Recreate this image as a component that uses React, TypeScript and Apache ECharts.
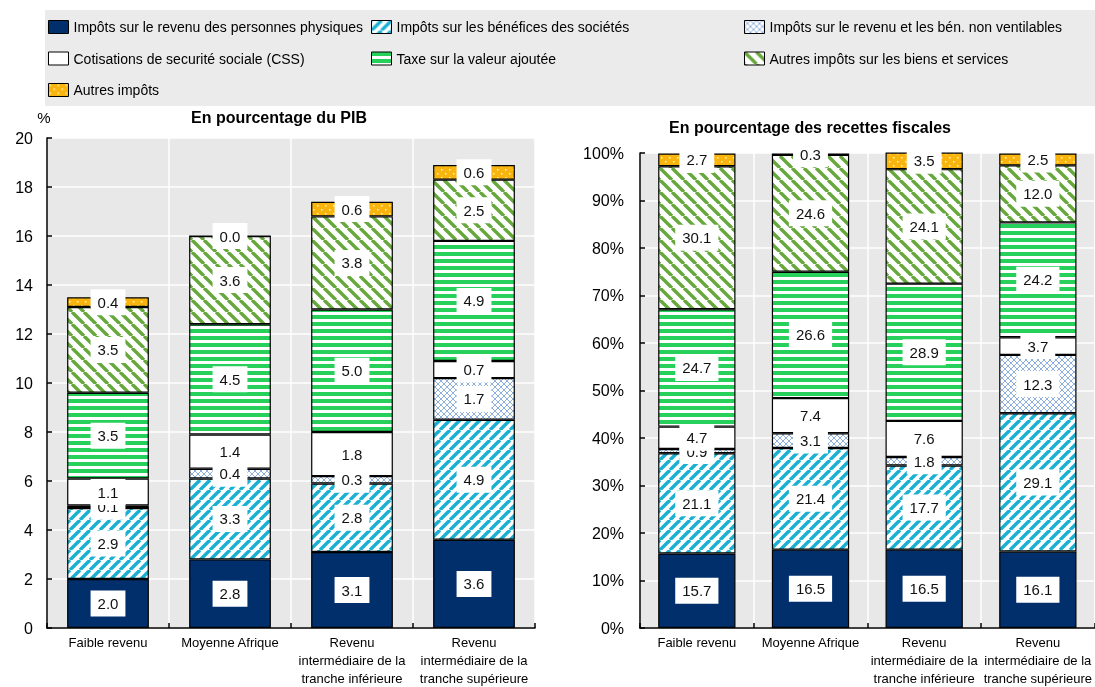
import React, { useEffect, useRef } from "react";
import * as echarts from "echarts";

const categories = [
  "Faible revenu",
  "Moyenne Afrique",
  "Revenu\nintermédiaire de la\ntranche inférieure",
  "Revenu\nintermédiaire de la\ntranche supérieure",
];

const seriesNames = [
  "Impôts sur le revenu des personnes physiques",
  "Impôts sur les bénéfices des sociétés",
  "Impôts sur le revenu et les bén. non ventilables",
  "Cotisations de securité sociale (CSS)",
  "Taxe sur la valeur ajoutée",
  "Autres impôts sur les biens et services",
  "Autres impôts",
];

// En pourcentage du PIB
const pibPIT = [2.0, 2.8, 3.1, 3.6];
const pibCIT = [2.9, 3.3, 2.8, 4.9];
const pibUnalloc = [0.1, 0.4, 0.3, 1.7];
const pibCSS = [1.1, 1.4, 1.8, 0.7];
const pibVAT = [3.5, 4.5, 5.0, 4.9];
const pibOtherGS = [3.5, 3.6, 3.8, 2.5];
const pibOther = [0.4, 0.0, 0.6, 0.6];

// En pourcentage des recettes fiscales
const shPIT = [15.7, 16.5, 16.5, 16.1];
const shCIT = [21.1, 21.4, 17.7, 29.1];
const shUnalloc = [0.9, 3.1, 1.8, 12.3];
const shCSS = [4.7, 7.4, 7.6, 3.7];
const shVAT = [24.7, 26.6, 28.9, 24.2];
const shOtherGS = [30.1, 24.6, 24.1, 12.0];
const shOther = [2.7, 0.3, 3.5, 2.5];

const leftTicks = { min: 0, max: 20, interval: 2 };
const rightTicks = { min: 0, max: 100, interval: 10 };

const FONT = '"Liberation Sans", Arial, sans-serif';

function makeTile(w: number, h: number, draw: (ctx: CanvasRenderingContext2D) => void) {
  const c = document.createElement("canvas");
  c.width = w;
  c.height = h;
  const ctx = c.getContext("2d")!;
  draw(ctx);
  return { image: c.toDataURL(), repeat: "repeat", imageWidth: w, imageHeight: h } as any;
}

function buildFills() {
  const navy = "#002f6c";
  const cit = makeTile(10, 10, (ctx) => {
    ctx.fillStyle = "#fff";
    ctx.fillRect(0, 0, 10, 10);
    ctx.strokeStyle = "#1bb0d2";
    ctx.lineWidth = 3.4;
    for (const o of [-10, 0, 10]) {
      ctx.beginPath();
      ctx.moveTo(o, 10);
      ctx.lineTo(o + 10, 0);
      ctx.stroke();
    }
  });
  const unalloc = makeTile(6, 6, (ctx) => {
    ctx.fillStyle = "#fff";
    ctx.fillRect(0, 0, 6, 6);
    ctx.strokeStyle = "#8eb0de";
    ctx.lineWidth = 1;
    ctx.beginPath();
    ctx.moveTo(0, 0);
    ctx.lineTo(6, 6);
    ctx.moveTo(6, 0);
    ctx.lineTo(0, 6);
    ctx.stroke();
  });
  const vat = makeTile(4, 7, (ctx) => {
    ctx.fillStyle = "#fff";
    ctx.fillRect(0, 0, 4, 7);
    ctx.fillStyle = "#26d05a";
    ctx.fillRect(0, 0, 4, 4);
  });
  const otherGS = makeTile(12, 12, (ctx) => {
    ctx.fillStyle = "#fff";
    ctx.fillRect(0, 0, 12, 12);
    ctx.strokeStyle = "#66a83c";
    ctx.lineWidth = 3.4;
    for (const o of [-12, 0, 12]) {
      ctx.beginPath();
      ctx.moveTo(o, 0);
      ctx.lineTo(o + 12, 12);
      ctx.stroke();
    }
  });
  const other = makeTile(8, 8, (ctx) => {
    ctx.fillStyle = "#f9b40e";
    ctx.fillRect(0, 0, 8, 8);
    ctx.fillStyle = "#fff6d0";
    ctx.fillRect(1, 1, 1.5, 1.5);
    ctx.fillRect(5, 5, 1.5, 1.5);
  });
  return [navy, cit, unalloc, "#ffffff", vat, otherGS, other];
}

export default function App() {
  const ref = useRef<HTMLDivElement>(null);

  useEffect(() => {
    if (!ref.current) return;
    const chart = echarts.init(ref.current, undefined, { renderer: "svg" });
    const fills = buildFills();
    const leftData = [pibPIT, pibCIT, pibUnalloc, pibCSS, pibVAT, pibOtherGS, pibOther];
    const rightData = [shPIT, shCIT, shUnalloc, shCSS, shVAT, shOtherGS, shOther];

    const label = {
      show: true,
      position: "inside",
      formatter: (p: any) => Number(p.value).toFixed(1),
      backgroundColor: "#ffffff",
      color: "#111",
      fontSize: 15,
      fontFamily: FONT,
      padding: [6, 7, 5, 7],
    };

    const mkSeries = (data: number[][], idx: number, stack: string, barWidth: string) =>
      data.map((vals, i) => ({
        name: seriesNames[i],
        type: "bar",
        stack,
        xAxisIndex: idx,
        yAxisIndex: idx,
        barWidth,
        data: vals,
        itemStyle: { color: fills[i], borderColor: "#000", borderWidth: 1.2 },
        label,
        emphasis: { disabled: true },
      }));

    const legendBase = {
      orient: "vertical",
      top: 19,
      padding: 0,
      itemGap: 15.5,
      itemWidth: 20,
      itemHeight: 13,
      icon: "rect",
      selectedMode: false,
      itemStyle: { borderColor: "#000", borderWidth: 1 },
      textStyle: { fontSize: 14, lineHeight: 16, color: "#000", fontFamily: FONT },
    };

    const xAxisBase = {
      type: "category",
      data: categories,
      axisLine: { lineStyle: { color: "#000", width: 1.5 } },
      axisTick: { show: true, inside: true, length: 5, lineStyle: { color: "#000", width: 1.5 } },
      splitLine: { show: true, lineStyle: { color: "#fff", width: 1.5 } },
      axisLabel: {
        interval: 0,
        fontSize: 13,
        lineHeight: 18,
        color: "#000",
        fontFamily: FONT,
        margin: 5,
      },
    };

    const yAxisBase = {
      type: "value",
      axisLine: { show: true, lineStyle: { color: "#000", width: 1.5 } },
      axisTick: { show: true, inside: true, length: 5, lineStyle: { color: "#000", width: 1.5 } },
      splitLine: { show: true, lineStyle: { color: "#fff", width: 1.5 } },
    };

    chart.setOption({
      animation: false,
      graphic: [
        {
          type: "rect",
          z: -10,
          shape: { x: 45, y: 10, width: 1050, height: 96 },
          style: { fill: "#ebebeb" },
          silent: true,
        },
        {
          type: "text",
          x: 279,
          y: 117,
          style: {
            text: "En pourcentage du PIB",
            font: `bold 16px ${FONT}`,
            fill: "#000",
            align: "center",
            verticalAlign: "middle",
          },
        },
        {
          type: "text",
          x: 810,
          y: 127,
          style: {
            text: "En pourcentage des recettes fiscales",
            font: `bold 16px ${FONT}`,
            fill: "#000",
            align: "center",
            verticalAlign: "middle",
          },
        },
        {
          type: "text",
          x: 44,
          y: 117,
          style: {
            text: "%",
            font: `15px ${FONT}`,
            fill: "#000",
            align: "center",
            verticalAlign: "middle",
          },
        },
      ],
      legend: [
        { ...legendBase, left: 48, data: [seriesNames[0], seriesNames[3], seriesNames[6]] },
        { ...legendBase, left: 371, data: [seriesNames[1], seriesNames[4]] },
        { ...legendBase, left: 744, data: [seriesNames[2], seriesNames[5]] },
      ],
      grid: [
        {
          left: 47,
          width: 488,
          top: 138,
          height: 496,
          show: true,
          backgroundColor: "#e8e8e8",
          borderWidth: 0,
        },
        {
          left: 640,
          width: 455,
          top: 153,
          height: 476,
          show: true,
          backgroundColor: "#e8e8e8",
          borderWidth: 0,
        },
      ],
      xAxis: [
        { ...xAxisBase, gridIndex: 0 },
        { ...xAxisBase, gridIndex: 1 },
      ],
      yAxis: [
        {
          ...yAxisBase,
          gridIndex: 0,
          ...leftTicks,
          axisLabel: { fontSize: 16, color: "#000", fontFamily: FONT, margin: 14 },
        },
        {
          ...yAxisBase,
          gridIndex: 1,
          ...rightTicks,
          axisLabel: {
            fontSize: 16,
            color: "#000",
            fontFamily: FONT,
            margin: 16,
            formatter: "{value}%",
          },
        },
      ],
      series: [...mkSeries(leftData, 0, "pib", "67%"), ...mkSeries(rightData, 1, "share", "68%")],
    });

    return () => chart.dispose();
  }, []);

  return (
    <div
      ref={ref}
      style={{ position: "fixed", left: 0, top: 0, width: 1095, height: 687 }}
    />
  );
}
